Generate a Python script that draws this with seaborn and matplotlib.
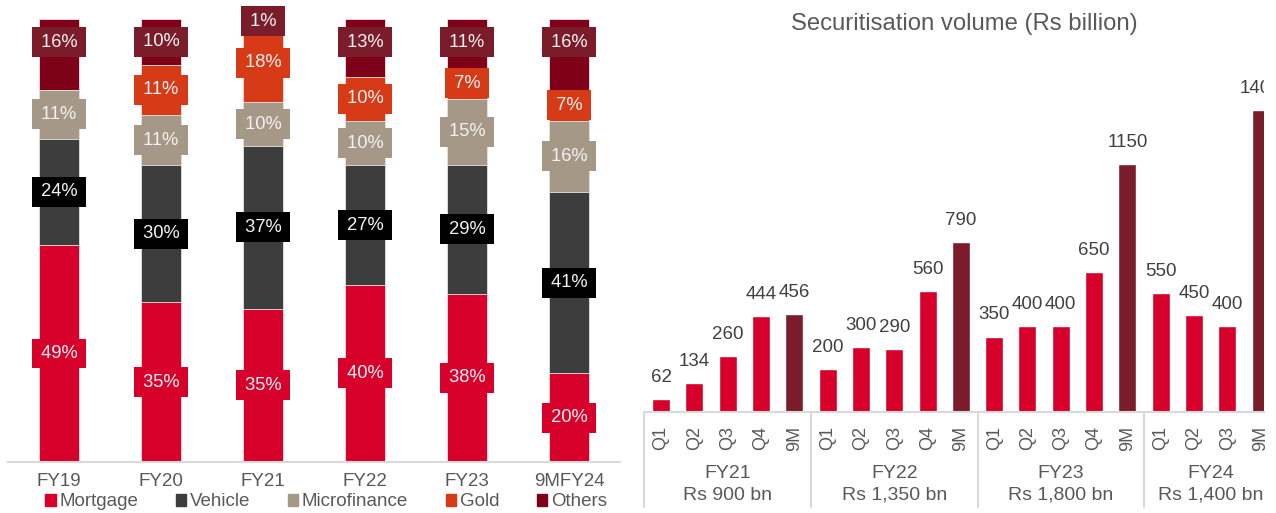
"""Loan-mix stacked bars and quarterly securitisation volumes."""

import seaborn as sns
import matplotlib.pyplot as plt
import matplotlib.transforms as mtransforms
from matplotlib.patches import Patch
import pandas as pd
import numpy as np

sns.set_theme(style="white")
plt.rcParams['font.family'] = ['Liberation Sans', 'DejaVu Sans']

# ── Data: left panel (share of mix, %) ───────────────────────────────
years = ['FY19', 'FY20', 'FY21', 'FY22', 'FY23', '9MFY24']
segments = ['Mortgage', 'Vehicle', 'Microfinance', 'Gold', 'Others']
mortgage = [49, 35, 35, 40, 38, 20]
vehicle = [24, 30, 37, 27, 29, 41]
microfinance = [11, 11, 10, 10, 15, 16]
gold = [0, 11, 18, 10, 7, 7]
others = [16, 10, 1, 13, 11, 16]

# ── Data: right panel (Rs billion) ───────────────────────────────────
fy_groups = ['FY21', 'FY22', 'FY23', 'FY24']
fy_totals = ['Rs 900 bn', 'Rs 1,350 bn', 'Rs 1,800 bn', 'Rs 1,400 bn']
periods = [['Q1', 'Q2', 'Q3', 'Q4', '9M'],
           ['Q1', 'Q2', 'Q3', 'Q4', '9M'],
           ['Q1', 'Q2', 'Q3', 'Q4', '9M'],
           ['Q1', 'Q2', 'Q3', '9M']]
volumes = [[62, 134, 260, 444, 456],
           [200, 300, 290, 560, 790],
           [350, 400, 400, 650, 1150],
           [550, 450, 400, 1400]]

seg_colors = ['#D6002A', '#3D3D3D', '#A69886', '#D63A16', '#7F0019']
box_colors = ['#D6002A', '#000000', '#A69886', '#D63A16', '#7B1C2A']
grey_txt = '#595959'
base_col = '#D9D9D9'

W, H = 1276, 513
fig = plt.figure(figsize=(W / 100, H / 100), dpi=100, facecolor='white')

# ── Left: stacked mix bars ───────────────────────────────────────────
ax1 = fig.add_axes([8 / W, 51 / H, 612 / W, 462 / H])
raw = np.array([mortgage, vehicle, microfinance, gold, others], dtype=float)
shares = raw / raw.sum(axis=0) * 100
cum = shares.cumsum(axis=0)

for i in range(len(segments) - 1, -1, -1):
    df = pd.DataFrame({'Year': years, 'Top': cum[i]})
    sns.barplot(data=df, x='Year', y='Top', color=seg_colors[i], width=0.4,
                saturation=1, edgecolor='#E6E6E6', linewidth=0.6, ax=ax1)

for i, seg in enumerate(segments):
    for j in range(len(years)):
        if raw[i, j] == 0:
            continue
        y = cum[i, j] - shares[i, j] / 2
        if seg == 'Others':
            y = max(y, 94.8)
        ax1.text(j, y, f' {int(raw[i, j])}% ', ha='center', va='center',
                 color='#F2F2F2', fontsize=13.2,
                 bbox=dict(boxstyle='square,pad=0.22', fc=box_colors[i],
                           ec='none', mutation_aspect=1.6))

ax1.set_ylim(0, 104.3)
ax1.set_xlim(-0.5, len(years) - 0.5)
ax1.set_xlabel('')
ax1.set_ylabel('')
ax1.set_yticks([])
ax1.tick_params(axis='x', length=0, pad=8, labelsize=13.5, labelcolor=grey_txt)
sns.despine(ax=ax1, left=True)
ax1.spines['bottom'].set_color(base_col)
ax1.spines['bottom'].set_linewidth(1.5)

fig.legend([Patch(color=c) for c in seg_colors], segments, loc='center',
           bbox_to_anchor=(326 / W, 1 - 502 / H), ncol=5, frameon=False,
           fontsize=13.5, handlelength=0.55, handleheight=0.55,
           handletextpad=0.2, columnspacing=2.0, labelcolor=grey_txt,
           borderpad=0, borderaxespad=0)

# ── Right: securitisation volume ─────────────────────────────────────
ax2 = fig.add_axes([644.4 / W, 101 / H, 619.6 / W, 412 / H])
slots, vals, kinds, ticklabels = [], [], [], []
for g, ps, vs in zip(fy_groups, periods, volumes):
    for p, v in zip(ps, vs):
        slots.append(f'{g} {p}')
        vals.append(v)
        kinds.append('9M' if p == '9M' else 'Q')
        ticklabels.append(p)
df2 = pd.DataFrame({'slot': slots, 'volume': vals, 'kind': kinds})

sns.barplot(data=df2, x='slot', y='volume', hue='kind',
            palette={'Q': '#D6002A', '9M': '#7B1C2A'}, dodge=False,
            width=0.54, saturation=1, legend=False, ax=ax2)

for x, v in enumerate(vals):
    ax2.annotate(f'{v}', (x, v), xytext=(0, 15.5), textcoords='offset points',
                 ha='center', va='center', fontsize=13.5, color='#404040',
                 clip_on=True)

ax2.set_xticks(range(len(slots)))
ax2.set_xticklabels(ticklabels, rotation=90)
ax2.tick_params(axis='x', length=0, pad=10, labelsize=13, labelcolor=grey_txt)
ax2.set_xlim(-0.5, 18.1)
ax2.set_ylim(0, 1910)
ax2.set_xlabel('')
ax2.set_ylabel('')
ax2.set_yticks([])
sns.despine(ax=ax2, left=True)
ax2.spines['bottom'].set_color(base_col)
ax2.spines['bottom'].set_linewidth(1.5)

trans = mtransforms.blended_transform_factory(ax2.transData, ax2.transAxes)
start = -0.5
for g, tot, ps in zip(fy_groups, fy_totals, periods):
    ax2.plot([start, start], [0, -0.23], transform=trans, color=base_col,
             lw=1.5, clip_on=False)
    mid = start + len(ps) / 2
    ax2.text(mid, -0.150, g, transform=trans, ha='center', va='center',
             fontsize=14, color=grey_txt)
    ax2.text(mid, -0.202, tot, transform=trans, ha='center', va='center',
             fontsize=14, color=grey_txt)
    start += len(ps)

fig.text(964 / W, 1 - 24 / H, 'Securitisation volume (Rs billion)',
         ha='center', va='center', fontsize=17.2, color=grey_txt)

fig.savefig('out.png', dpi=100)
